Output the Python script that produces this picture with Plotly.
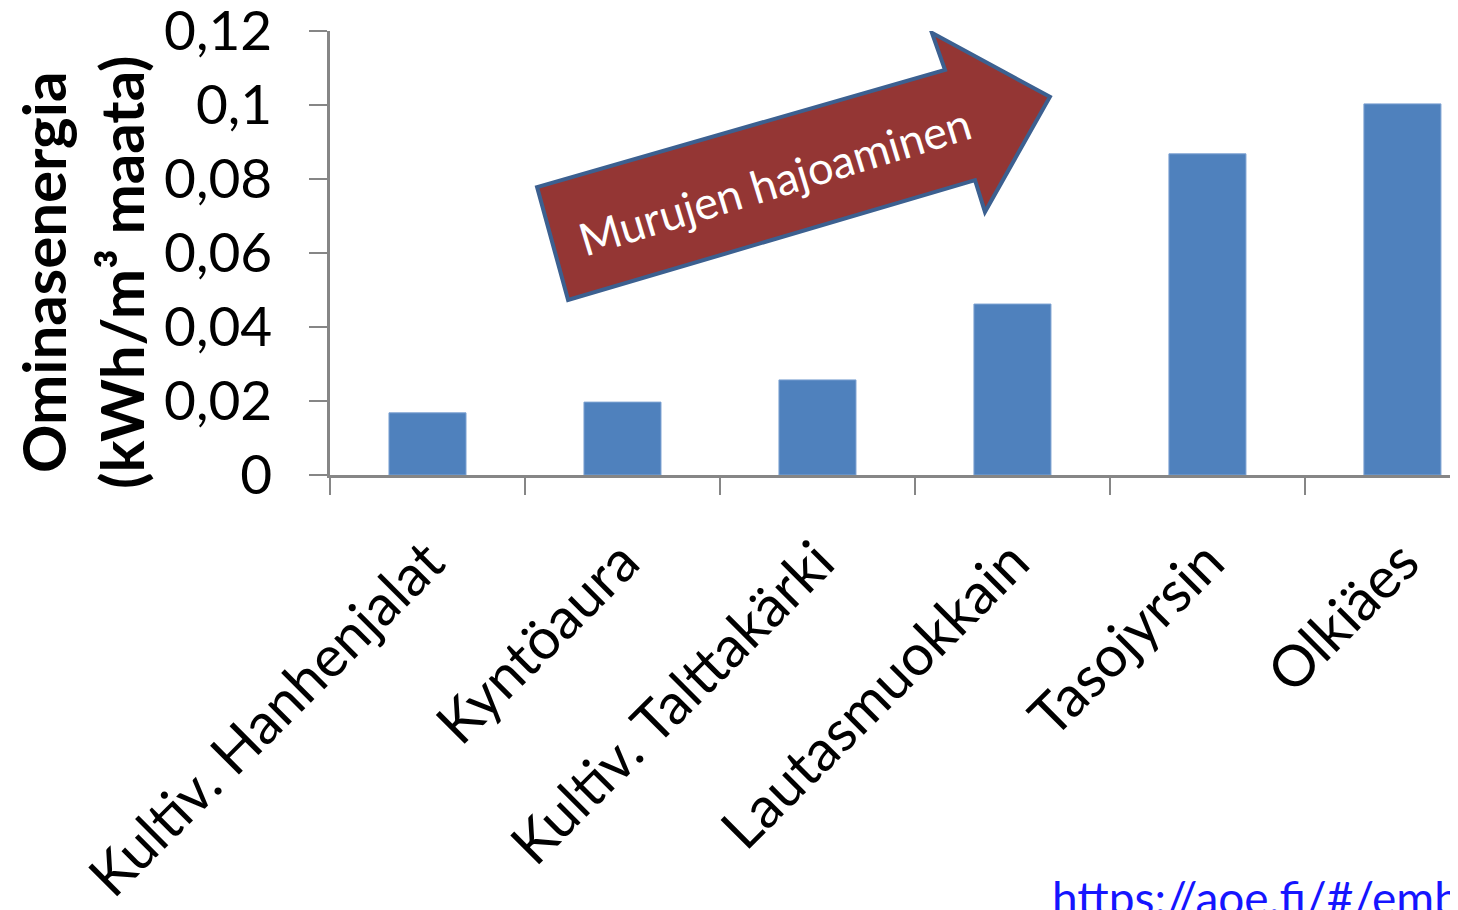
import plotly.graph_objects as go

categories = ["Kultiv. Hanhenjalat", "Kyntöaura", "Kultiv. Talttakärki",
              "Lautasmuokkain", "Tasojyrsin", "Olkiäes"]
energy = [0.0168, 0.0197, 0.0257, 0.0462, 0.0868, 0.1003]

y_ticks = [0, 0.02, 0.04, 0.06, 0.08, 0.1, 0.12]
y_tick_labels = ["0", "0,02", "0,04", "0,06", "0,08", "0,1", "0,12"]

# block arrow outline in axis units (category index, value)
arrow_x = [0.562, 2.654, 2.587, 3.192, 2.859, 2.808, 0.721]
arrow_y = [0.0778, 0.1095, 0.1195, 0.1022, 0.0711, 0.0797, 0.0473]

FONT = "Lato"
AXIS_GREY = "#868686"
PLOT_W = 1128
PLOT_H = 444

fig = go.Figure()

fig.add_trace(go.Bar(
    x=categories,
    y=energy,
    width=0.395,
    marker=dict(color="#4f81bd", line=dict(width=1, color="#7da2d2")),
    showlegend=False
))

path = "M " + " L ".join(f"{x},{y}" for x, y in zip(arrow_x, arrow_y)) + " Z"
fig.add_shape(
    type="path",
    path=path,
    xref="x",
    yref="y",
    fillcolor="#943634",
    line=dict(color="#3c6090", width=4),
    layer="above"
)

fig.add_annotation(
    x=1.78, y=0.0795, xref="x", yref="y",
    text="Murujen hajoaminen",
    textangle=-17,
    showarrow=False,
    font=dict(family=FONT, size=45, color="white")
)

# y axis title, placed by hand (sits a bit below the plot centre)
fig.add_annotation(
    x=-248 / PLOT_W, y=203 / PLOT_H,
    xref="paper", yref="paper",
    xanchor="center", yanchor="middle",
    text="<b>Ominasenergia<br>(kWh/m³ maata)</b>",
    textangle=-90,
    showarrow=False,
    font=dict(family=FONT, size=60, color="black")
)

fig.add_annotation(
    x=(1050 - 330) / PLOT_W, y=(475 - 868) / PLOT_H,
    xref="paper", yref="paper",
    xanchor="left", yanchor="top",
    text="https://aoe.fi/#/embed",
    showarrow=False,
    font=dict(family=FONT, size=46, color="#1515ff")
)

# page body adds an 8px offset, so the figure is 8px smaller and margins shifted
fig.update_layout(
    width=1450,
    height=902,
    margin=dict(l=322, r=0, t=23, b=902 - 23 - PLOT_H),
    plot_bgcolor="white",
    paper_bgcolor="white",
    font=dict(family=FONT, size=55, color="black"),
    xaxis=dict(
        range=[-0.5, 5.285],
        tickangle=-45,
        tickson="boundaries",
        ticks="outside",
        ticklen=17,
        tickwidth=2,
        tickcolor=AXIS_GREY,
        showline=True,
        linecolor=AXIS_GREY,
        linewidth=2.5,
        showgrid=False,
        automargin=False,
        ticklabelstandoff=28,
        tickfont=dict(family=FONT, size=57)
    ),
    yaxis=dict(
        range=[0, 0.12],
        tickvals=y_ticks,
        ticktext=y_tick_labels,
        ticks="outside",
        ticklen=18,
        tickwidth=2,
        tickcolor=AXIS_GREY,
        showline=True,
        linecolor=AXIS_GREY,
        linewidth=2.5,
        showgrid=False,
        zeroline=False,
        automargin=False,
        ticklabeloverflow="allow",
        ticklabelstandoff=26,
        tickfont=dict(family=FONT, size=55)
    )
)

fig.write_html("out.html")
